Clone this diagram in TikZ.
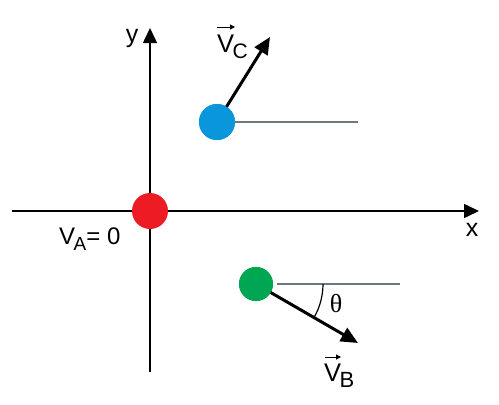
\documentclass[tikz,border=0pt]{standalone}
\usepackage{fontspec}
\setmainfont{Liberation Sans}
\newfontfamily\thetafont{Liberation Serif}
\usetikzlibrary{arrows.meta}
\definecolor{dotred}{RGB}{237,28,36}
\definecolor{dotblue}{RGB}{10,150,218}
\definecolor{dotgreen}{RGB}{0,166,81}
\definecolor{refgray}{RGB}{110,120,128}
\newcommand{\mysub}[2][19]{\kern-1.5pt\raisebox{-6pt}{\fontsize{#1}{20}\selectfont #2}}
\begin{document}
\begin{tikzpicture}[x=1pt,y=-1pt,
  axis/.style={line width=1.5pt,-{Triangle[length=15pt,width=14pt]}},
  vecarrow/.style={line width=3pt,-{Triangle[length=17pt,width=15pt]}},
  overarrow/.style={line width=1pt,-{Triangle[length=5pt,width=5pt]}},
  refline/.style={refgray,line width=1.5pt},
  dot/.style={circle,inner sep=0pt,minimum size=36pt},
  lbl/.style={font=\fontsize{25}{28}\selectfont,inner sep=0pt},
  vlbl/.style={font=\fontsize{25.5}{28}\selectfont,inner sep=0pt,anchor=base west}]
\useasboundingbox (0,0) rectangle (499,405);
% axes
\coordinate (xs) at (12,211);
\coordinate (xe) at (479,211);
\coordinate (ys) at (150,372);
\coordinate (ye) at (150,28);
\draw[axis] (xs) -- (xe);
\draw[axis] (ys) -- (ye);
\node[lbl] (xl) at (472,230) {x};
\node[lbl] (yl) at (132,38) {y};
% A
\node[dot,fill=dotred] (A) at (150,211) {};
\node[lbl,font=\fontsize{24}{28}\selectfont,anchor=base west] (Al) at (59,244) {V\mysub{A}= 0};
% C
\node[dot,fill=dotblue] (C) at (217,122) {};
\coordinate (Cr) at (358,122);
\draw[refline] (C.east) -- (Cr);
\coordinate (Ct) at (270,37);
\draw[vecarrow] (C.center) -- (Ct);
\node[dot,fill=dotblue] at (C) {};
\node[vlbl] (Cl) at (217,52) {V\mysub[21]{C}};
\draw[overarrow] ([shift={(0,-25)}]Cl.base west) -- ++(18,0);
% B
\node[dot,fill=dotgreen,minimum size=34pt] (B) at (256,284) {};
\coordinate (Br) at (400,284);
\draw[refline] (B.east) ++(4,0) -- (Br);
\coordinate (Bt) at (358,343);
\draw[vecarrow] (B.center) -- (Bt);
\node[dot,fill=dotgreen,minimum size=34pt] at (B) {};
\draw[line width=1.2pt] (B.center) ++(0:67) arc[start angle=0,end angle=30,radius=67];
\node[lbl,font=\fontsize{26}{28}\thetafont] (th) at (336,304) {θ};
\node[vlbl] (Bl) at (324,381) {V\mysub[22]{B}};
\draw[overarrow] ([shift={(1,-24)}]Bl.base west) -- ++(16,0);
\end{tikzpicture}
\end{document}
